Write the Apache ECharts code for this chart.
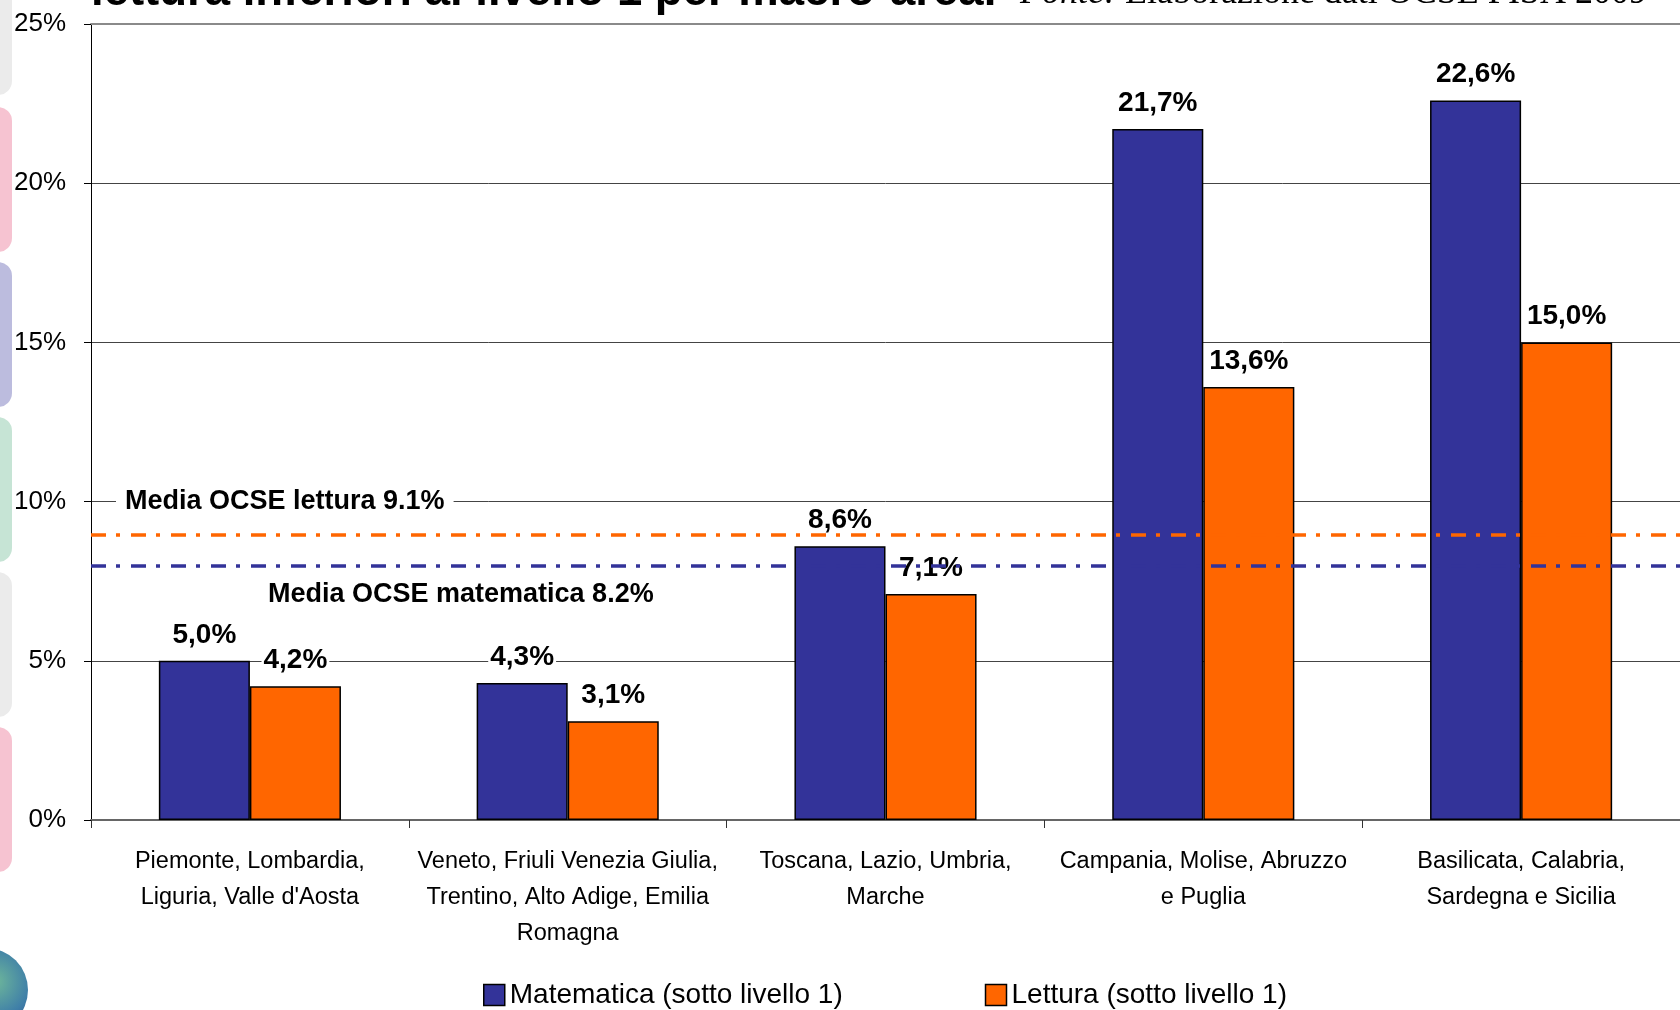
<!DOCTYPE html>
<html>
<head>
<meta charset="utf-8">
<script src="https://cdn.jsdelivr.net/npm/echarts@6/dist/echarts.min.js"></script>
<style>
html,body{margin:0;padding:0;background:#fff;}
#chart{width:1680px;height:1010px;}
</style>
</head>
<body>
<div id="chart"></div>
<script>
// ---- data ----
const categories = [
  "Piemonte, Lombardia,\nLiguria, Valle d'Aosta",
  "Veneto, Friuli Venezia Giulia,\nTrentino, Alto Adige, Emilia\nRomagna",
  "Toscana, Lazio, Umbria,\nMarche",
  "Campania, Molise, Abruzzo\ne Puglia",
  "Basilicata, Calabria,\nSardegna e Sicilia"
];
const seriesNames = ["Matematica (sotto livello 1)", "Lettura (sotto livello 1)"];
const matematica = [5.0, 4.3, 8.6, 21.7, 22.6];
const lettura = [4.2, 3.1, 7.1, 13.6, 15.0];
const meanLetturaValue = 8.95;
const meanMatematicaValue = 8.0;
const meanLetturaLabel = "Media OCSE lettura 9.1%";
const meanMatematicaLabel = "Media OCSE matematica 8.2%";
const yMin = 0, yMax = 25, yInterval = 5;
const titleText = "lettura inferiori al livello 1 per macro-area.";
const sourceItalic = "Fonte:";
const sourceText = " Elaborazione dati OCSE PISA 2009";

// ---- styles ----
const BLUE = "#333399";
const ORANGE = "#FF6600";
const SANS = "'Liberation Sans', Arial, sans-serif";

const chart = echarts.init(document.getElementById('chart'), null, {renderer: 'canvas'});

const fmt = v => v.toFixed(1).replace('.', ',') + '%';

const dataLabel = {
  show: true,
  position: 'top',
  distance: 12,
  fontFamily: SANS,
  fontWeight: 'bold',
  fontSize: 28,
  color: '#000',
  backgroundColor: '#fff',
  padding: [0, 2],
  formatter: p => fmt(p.value)
};

const deco = [];
const decoColors = ['#ebebeb', '#f6c3d1', '#bcbcde', '#c6e4d5', '#ebebeb', '#f6c3d1'];
const decoY = [-60, 107, 262, 417, 572, 727];
const decoH = [155, 145, 145, 145, 145, 145];
for (let i = 0; i < decoColors.length; i++) {
  deco.push({
    type: 'rect', z: -10, silent: true,
    shape: {x: -25, y: decoY[i], width: 37, height: decoH[i], r: 14},
    style: {fill: decoColors[i]}
  });
}
deco.push({
  type: 'circle', z: -10, silent: true,
  shape: {cx: -14, cy: 990, r: 42},
  style: {
    fill: new echarts.graphic.RadialGradient(0.6, 0.4, 0.7, [
      {offset: 0, color: '#6fb89a'},
      {offset: 0.6, color: '#3f7fa8'},
      {offset: 1, color: '#2b4f8c'}
    ])
  }
});
deco.push({
  type: 'text', silent: true,
  x: 91, y: -8,
  style: {
    text: titleText,
    font: "bold 45.5px 'Liberation Sans', Arial, sans-serif",
    fill: '#000', align: 'left', verticalAlign: 'middle'
  }
});
deco.push({
  type: 'text', silent: true,
  x: 1020, y: -6,
  style: {
    text: '{i|' + sourceItalic + '}' + sourceText,
    font: "36px 'Liberation Serif', 'Times New Roman', serif",
    fill: '#000', align: 'left', verticalAlign: 'middle',
    rich: {
      i: {fontStyle: 'italic', fontSize: 36, fontFamily: "'Liberation Serif', 'Times New Roman', serif", fill: '#000'}
    }
  }
});

const option = {
  animation: false,
  backgroundColor: '#fff',
  graphic: deco,
  grid: {left: 91, right: 0, top: 24, bottom: 190, containLabel: false},
  legend: {
    left: 478, top: 976,
    itemWidth: 21, itemHeight: 21, itemGap: 142,
    icon: 'rect',
    itemStyle: {borderColor: '#000', borderWidth: 1.5},
    textStyle: {fontFamily: SANS, fontSize: 28, color: '#000'},
    data: seriesNames
  },
  xAxis: [{
    type: 'category',
    data: categories,
    axisLine: {show: true, lineStyle: {color: '#666', width: 2}},
    axisTick: {show: true, length: 8, lineStyle: {color: '#333', width: 1}},
    axisLabel: {
      interval: 0, margin: 24,
      fontFamily: SANS, fontSize: 23.5, color: '#000', lineHeight: 36
    },
    splitLine: {show: false}
  }, {
    type: 'category',
    position: 'top',
    data: categories,
    axisLine: {show: true, lineStyle: {color: '#8a8a8a', width: 2}},
    axisTick: {show: false},
    axisLabel: {show: false}
  }],
  yAxis: {
    type: 'value',
    min: yMin, max: yMax, interval: yInterval,
    axisLine: {show: true, lineStyle: {color: '#000', width: 1}},
    axisTick: {show: true, length: 7, lineStyle: {color: '#000'}},
    axisLabel: {
      margin: 25, formatter: '{value}%',
      fontFamily: SANS, fontSize: 26, color: '#000'
    },
    splitLine: {show: true, lineStyle: {color: '#444', width: 1}}
  },
  series: [{
    name: seriesNames[0],
    type: 'bar',
    data: matematica,
    barGap: '0%',
    barCategoryGap: '42.7%',
    itemStyle: {color: BLUE, borderColor: '#000', borderWidth: 1.5},
    label: dataLabel,
    markLine: {
      silent: true, symbol: 'none', z: 5,
      lineStyle: {color: BLUE, width: 3.5, type: [15, 10, 4, 11]},
      label: {
        show: true, position: 'insideStartBottom', distance: [169, 16],
        formatter: meanMatematicaLabel,
        fontFamily: SANS, fontWeight: 'bold', fontSize: 27, color: '#000',
        padding: [0, 8]
      },
      data: [{yAxis: meanMatematicaValue}]
    }
  }, {
    name: seriesNames[1],
    type: 'bar',
    data: lettura,
    barGap: '0%',
    barCategoryGap: '42.7%',
    itemStyle: {color: ORANGE, borderColor: '#000', borderWidth: 1.5},
    label: dataLabel,
    markLine: {
      silent: true, symbol: 'none', z: 5,
      lineStyle: {color: ORANGE, width: 3.5, type: [15, 10, 4, 11]},
      label: {
        show: true, position: 'insideStartTop', distance: [25, 20],
        formatter: meanLetturaLabel,
        fontFamily: SANS, fontWeight: 'bold', fontSize: 27, color: '#000',
        backgroundColor: '#fff', padding: [0, 9]
      },
      data: [{yAxis: meanLetturaValue}]
    }
  }]
};
chart.setOption(option);
</script>
</body>
</html>
